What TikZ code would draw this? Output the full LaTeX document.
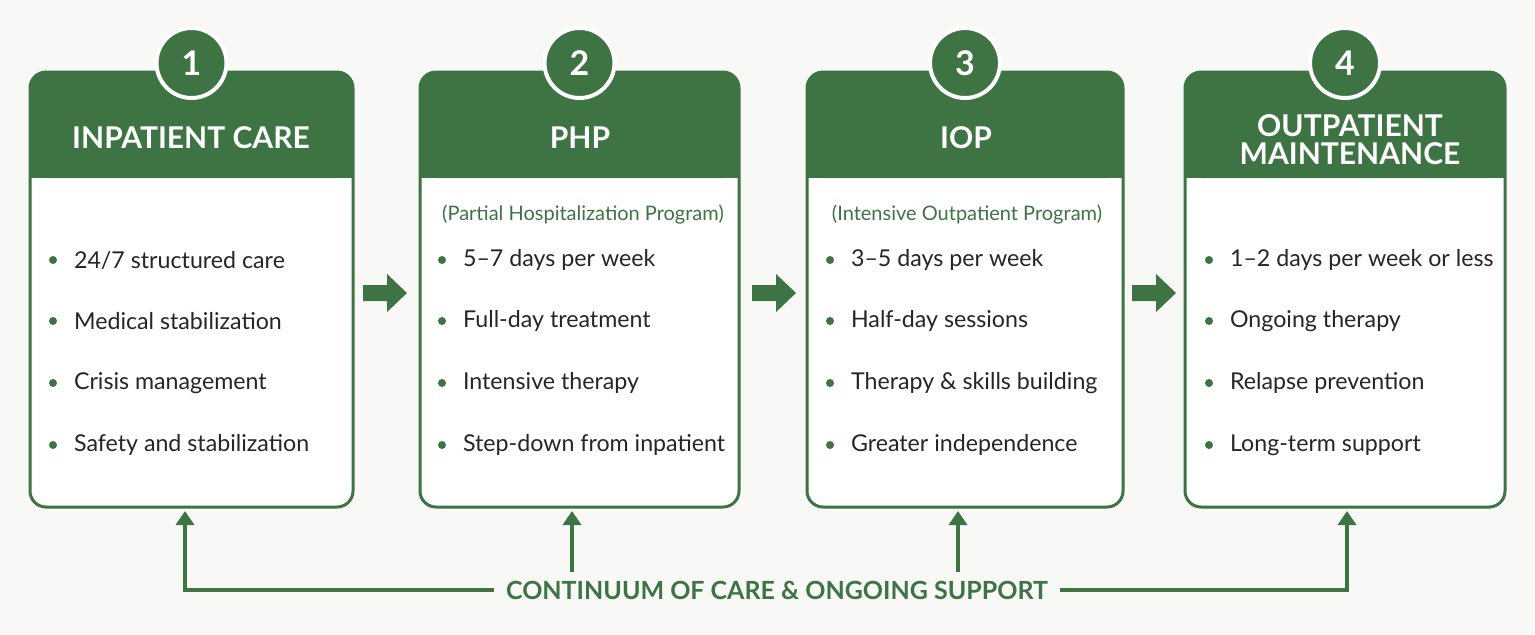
\documentclass[tikz,border=0pt]{standalone}
\usepackage{fontspec}
\setmainfont{Lato}
\usetikzlibrary{arrows.meta}
\definecolor{g}{HTML}{3E7344}
\definecolor{bg}{HTML}{F8F8F6}
\begin{document}
\begin{tikzpicture}[x=0.5pt,y=-0.5pt,
  box/.style={draw=g,line width=1.5pt,rounded corners=8pt},
  head/.style={text=white,font=\fontsize{15}{16}\selectfont\bfseries,align=center},
  num/.style={circle,fill=g,draw=white,line width=2pt,minimum size=35pt,text=white,font=\fontsize{17}{18}\selectfont\bfseries,inner sep=0pt},
  item/.style={anchor=west,font=\fontsize{11.6}{13}\selectfont,text=black!85},
  dot/.style={circle,fill=g,inner sep=0pt,minimum size=4pt},
  sub/.style={text=g,font=\fontsize{10}{12}\selectfont},
  flow/.style={draw=g,line width=2pt,-{Triangle[length=7pt,width=9pt]}},
  big/.style={fill=g}]
\useasboundingbox[fill=bg] (0,0) rectangle (1535,634);
\foreach \i/\xa/\xb in {1/30/353,2/420/739,3/807/1123,4/1185/1505}{
  \fill[white,rounded corners=8pt] (\xa,72) rectangle (\xb,507);
  \fill[g,rounded corners=8pt] (\xa,72) rectangle (\xb,178);
  \fill[g] (\xa,150) rectangle (\xb,178);
  \draw[box] (\xa,72) rectangle (\xb,507);
  \node[num] (n\i) at ({(\xa+\xb)/2},63) {\i};
}
\node[head] (h1) at (191,138) {INPATIENT CARE};
\node[head] (h2) at (580,138) {PHP};
\node[head] (h3) at (966,138) {IOP};
\node[head] (h4) at (1350,140) {OUTPATIENT\\[-2pt]MAINTENANCE};
\node[sub] (s2) at (583,215) {(Partial Hospitalization Program)};
\node[sub] (s3) at (967,215) {(Intensive Outpatient Program)};
\foreach \x/\a/\b/\c/\d in {
 53/{24/7 structured care}/Medical stabilization/Crisis management/Safety and stabilization,
 442/5–7 days per week/Full-day treatment/Intensive therapy/Step-down from inpatient,
 830/3–5 days per week/Half-day sessions/Therapy \& skills building/Greater independence,
 1209/1–2 days per week or less/Ongoing therapy/Relapse prevention/Long-term support}{
  \foreach \y/\t in {260/{\a},321/{\b},383/{\c},445/{\d}}{
    \node[dot] at (\x,\y) {};
    \node[item] at (\x+14,\y) {\t};
  }
}
\foreach \x in {363,752,1132}{
  \fill[g] (\x,285) -- (\x+24,285) -- (\x+24,274) -- (\x+44,293) -- (\x+24,312) -- (\x+24,301) -- (\x,301) -- cycle;
}
\node[fill=bg,text=g,font=\fontsize{12.5}{14}\selectfont\bfseries,inner xsep=6pt] (ct) at (777,590) {CONTINUUM OF CARE \& ONGOING SUPPORT};
\coordinate (b1) at (185,511); \coordinate (b2) at (572,511);
\coordinate (b3) at (958,511); \coordinate (b4) at (1347,511);
\draw[flow] (ct.west) -| (b1);
\draw[flow] (ct.east) -| (b4);
\draw[flow] (572,572) -- (b2);
\draw[flow] (958,572) -- (b3);
\end{tikzpicture}
\end{document}
